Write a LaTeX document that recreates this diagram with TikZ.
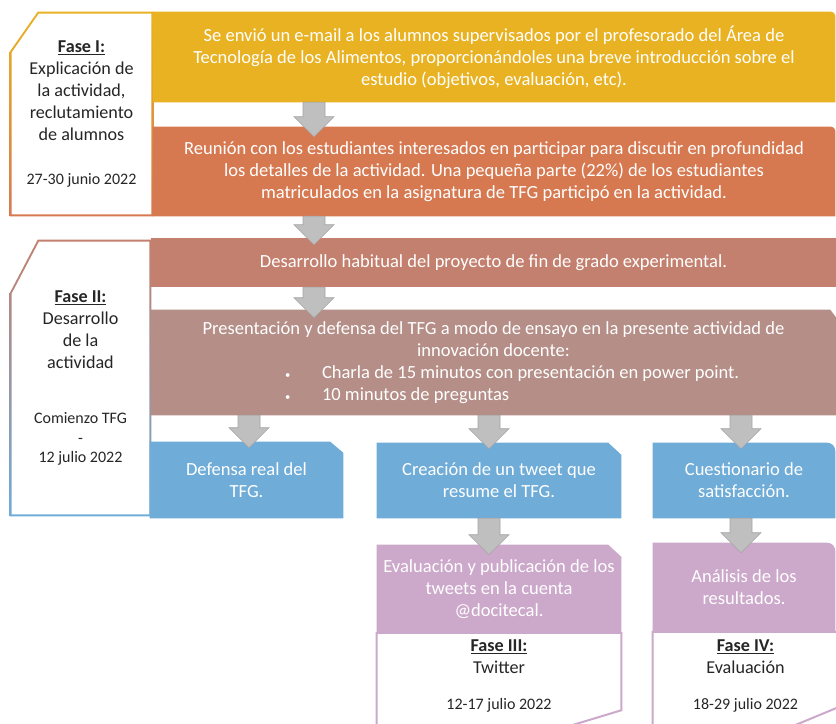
\documentclass[tikz,border=0pt]{standalone}
\usepackage{fontspec}
\setmainfont{Carlito}
\usetikzlibrary{calc,backgrounds}

\definecolor{amarillo}{RGB}{233,178,34}
\definecolor{naranja}{RGB}{215,121,80}
\definecolor{salmon}{RGB}{196,128,110}
\definecolor{malva}{RGB}{180,142,135}
\definecolor{azul}{RGB}{111,172,216}
\definecolor{morado}{RGB}{204,168,203}
\definecolor{gris}{RGB}{191,191,191}
\definecolor{grisborde}{RGB}{165,165,165}
\definecolor{textofase}{RGB}{38,38,38}

\newcommand{\fecha}{\fontsize{12}{15}\selectfont}
\newcommand{\vineta}{\makebox[27.75pt][l]{\fontsize{8}{8}\selectfont\textbullet}}

\begin{document}
\begin{tikzpicture}[x=0.75pt, y=-0.75pt,
    font=\fontsize{13.9}{16.5}\selectfont,
    paso/.style={align=center, text=white, inner sep=0pt},
    fase/.style={align=center, text=textofase, inner sep=0pt, font=\fontsize{13.6}{16.5}\selectfont},
    flecha/.style={fill=gris, draw=grisborde, line width=0.5pt,
      to path={let \p1=(\tikztostart), \p2=(\tikztotarget) in
        (\x1-8.25pt,\y1) -- (\x1-8.25pt,\y2+15pt) -- (\x1-15pt,\y2+15pt) -- (\x1,\y2)
        -- (\x1+15pt,\y2+15pt) -- (\x1+8.25pt,\y2+15pt) -- (\x1+8.25pt,\y1) -- cycle}}
  ]
  \useasboundingbox (0,0) rectangle (836,724);
  \clip (0,0) rectangle (836,724);

  % fases
  \node[fase, minimum width=107.25pt, minimum height=153pt] (fasei) at (81.5,114)
    {\underline{\textbf{Fase I:}}\\ Explicación de\\ la actividad,\\ reclutamiento\\ de alumnos\\[16.5pt] {\fecha 27-30 junio 2022}};
  \node[fase, minimum width=105.75pt, minimum height=207pt] (faseii) at (80.5,378)
    {\underline{\textbf{Fase II:}}\\ Desarrollo\\ de la\\ actividad\\[25pt] {\fecha Comienzo TFG}\\[-2pt] {\fecha -}\\[-2pt] {\fecha 12 julio 2022}};

  % pasos
  \node[paso, minimum width=511.5pt, minimum height=67.5pt] (envio) at (494,57)
    {Se envió un e-mail a los alumnos supervisados por el profesorado del Área de\\ Tecnología de los Alimentos, proporcionándoles una breve introducción sobre el\\ estudio (objetivos, evaluación, etc).};
  \node[paso, minimum width=511.5pt, minimum height=66.75pt] (reunion) at (494,171.5)
    {Reunión con los estudiantes interesados en participar para discutir en profundidad\\ los detalles de la actividad. Una pequeña parte (22\%) de los estudiantes\\ matriculados en la asignatura de TFG participó en la actividad.};
  \node[paso, fill=salmon, minimum width=513.75pt, minimum height=36.75pt] (habitual) at (493.5,262.5)
    {Desarrollo habitual del proyecto de fin de grado experimental.};
  \node[paso, minimum width=513.75pt, minimum height=78.75pt] (presentacion) at (493.5,362.5)
    {Presentación y defensa del TFG a modo de ensayo en la presente actividad de\\ innovación docente:\\
     \makebox[312.75pt][l]{\vineta Charla de 15 minutos con presentación en power point.}\\
     \makebox[312.75pt][l]{\vineta 10 minutos de preguntas}};
  \node[paso, minimum width=144.75pt, minimum height=57pt] (defensa) at (246.5,480)
    {Defensa real del\\ TFG.};
  \node[paso, minimum width=183pt, minimum height=56.25pt] (tweet) at (499,480.5)
    {Creación de un tweet que\\ resume el TFG.};
  \node[paso, minimum width=136.5pt, minimum height=56.25pt] (cuestionario) at (744,480.5)
    {Cuestionario de\\ satisfacción.};
  \node[paso, minimum width=183pt, minimum height=66pt] (evaltweets) at (499,589)
    {Evaluación y publicación de los\\ tweets en la cuenta\\ @docitecal.};
  \node[paso, minimum width=136.5pt, minimum height=66.75pt] (analisis) at (744,587.5)
    {Análisis de los\\ resultados.};
  \node[fase, minimum width=183pt, minimum height=62.25pt] (faseiii) at (499,676)
    {\underline{\textbf{Fase III:}}\\ Twitter\\[10.5pt] {\fecha 12-17 julio 2022}};
  \node[fase, minimum width=138.75pt, minimum height=63pt] (faseiv) at (745.5,675.5)
    {\underline{\textbf{Fase IV:}}\\ Evaluación\\[10.5pt] {\fecha 18-29 julio 2022}};

  \begin{scope}[on background layer]
    \shade[top color=amarillo, bottom color=naranja] ([yshift=-30pt]fasei.north west) -- ([xshift=21pt]fasei.north west)
      -- (fasei.north east) -- (fasei.south east) -- (fasei.south west) -- cycle;
    \fill[white] ([xshift=1.5pt,yshift=-30.5pt]fasei.north west) -- ([xshift=21.8pt,yshift=-1.5pt]fasei.north west)
      -- ([xshift=-1.5pt,yshift=-1.5pt]fasei.north east) -- ([xshift=-1.5pt,yshift=1.5pt]fasei.south east)
      -- ([xshift=1.5pt,yshift=1.5pt]fasei.south west) -- cycle;
    \shade[top color=salmon, bottom color=azul] ([yshift=-40pt]faseii.north west) -- ([xshift=21pt]faseii.north west)
      -- (faseii.north east) -- (faseii.south east) -- (faseii.south west) -- cycle;
    \fill[white] ([xshift=1.5pt,yshift=-40.4pt]faseii.north west) -- ([xshift=21.9pt,yshift=-1.5pt]faseii.north west)
      -- ([xshift=-1.5pt,yshift=-1.5pt]faseii.north east) -- ([xshift=-1.5pt,yshift=1.5pt]faseii.south east)
      -- ([xshift=1.5pt,yshift=1.5pt]faseii.south west) -- cycle;

    \fill[amarillo] (envio.south west) -- (envio.north west) -- ([xshift=-3pt]envio.north east)
      arc[start angle=90, end angle=0, radius=3pt] -- (envio.south east) -- cycle;
    \fill[naranja] (reunion.south west) -- (reunion.north west) -- ([xshift=-3pt]reunion.north east)
      arc[start angle=90, end angle=0, radius=3pt] -- (reunion.south east) -- cycle;
    \fill[malva] (presentacion.south west) -- (presentacion.north west) -- ([xshift=-4.5pt]presentacion.north east)
      -- ([yshift=-6pt]presentacion.north east) -- (presentacion.south east) -- cycle;
    \fill[azul] (defensa.south west) -- (defensa.north west) -- ([xshift=-9.75pt]defensa.north east)
      -- ([yshift=-8.25pt]defensa.north east) -- (defensa.south east) -- cycle;
    \fill[azul] (tweet.south west) -- (tweet.north west) -- ([xshift=-9.75pt]tweet.north east)
      -- ([yshift=-9pt]tweet.north east) -- (tweet.south east) -- cycle;
    \fill[azul] (cuestionario.south west) -- (cuestionario.north west) -- ([xshift=-6pt]cuestionario.north east)
      arc[start angle=90, end angle=0, radius=6pt] -- (cuestionario.south east) -- cycle;

    \filldraw[fill=white, draw=morado, line width=1.5pt] ([yshift=1.1pt]faseiii.north west) -- ([yshift=1.1pt]faseiii.north east)
      -- ([yshift=5.6pt]faseiii.south east) -- ([xshift=-47pt,yshift=-8.6pt]faseiii.south east)
      -- ([yshift=-8.6pt]faseiii.south west) -- cycle;
    \filldraw[fill=white, draw=morado, line width=1.5pt] ([yshift=1.1pt]faseiv.north west) -- ([yshift=1.1pt]faseiv.north east)
      -- ([yshift=7.9pt]faseiv.south east) -- ([xshift=-39.75pt,yshift=-8.6pt]faseiv.south east)
      -- ([yshift=-8.6pt]faseiv.south west) -- cycle;
    \fill[morado] (evaltweets.south west) -- (evaltweets.north west) -- ([xshift=-9.75pt]evaltweets.north east)
      -- ([yshift=-9pt]evaltweets.north east) -- (evaltweets.south east) -- cycle;
    \fill[morado] (analisis.south west) -- (analisis.north west) -- ([xshift=-6pt]analisis.north east)
      arc[start angle=90, end angle=0, radius=6pt] -- (analisis.south east) -- cycle;
  \end{scope}

  % flechas
  \coordinate (colsup) at (314,0);
  \coordinate (col1) at (249,0);
  \coordinate (col2) at (489,0);
  \coordinate (col3) at (741,0);

  \path[flecha] (envio.south -| colsup) to ([yshift=-7.5pt]reunion.north -| colsup);
  \path[flecha] (reunion.south -| colsup) to ([yshift=-5.25pt]habitual.north -| colsup);
  \path[flecha] (habitual.south -| colsup) to ([yshift=-6pt]presentacion.north -| colsup);
  \path[flecha] (presentacion.south -| col1) to ([yshift=-4.5pt]defensa.north -| col1);
  \path[flecha] (presentacion.south -| col2) to ([yshift=-4.5pt]tweet.north -| col2);
  \path[flecha] (presentacion.south -| col3) to ([yshift=-4.5pt]cuestionario.north -| col3);
  \path[flecha] (tweet.south -| col2) to ([yshift=-7.5pt]evaltweets.north -| col2);
  \path[flecha] (cuestionario.south -| col3) to ([yshift=-7.5pt]analisis.north -| col3);
\end{tikzpicture}
\end{document}
